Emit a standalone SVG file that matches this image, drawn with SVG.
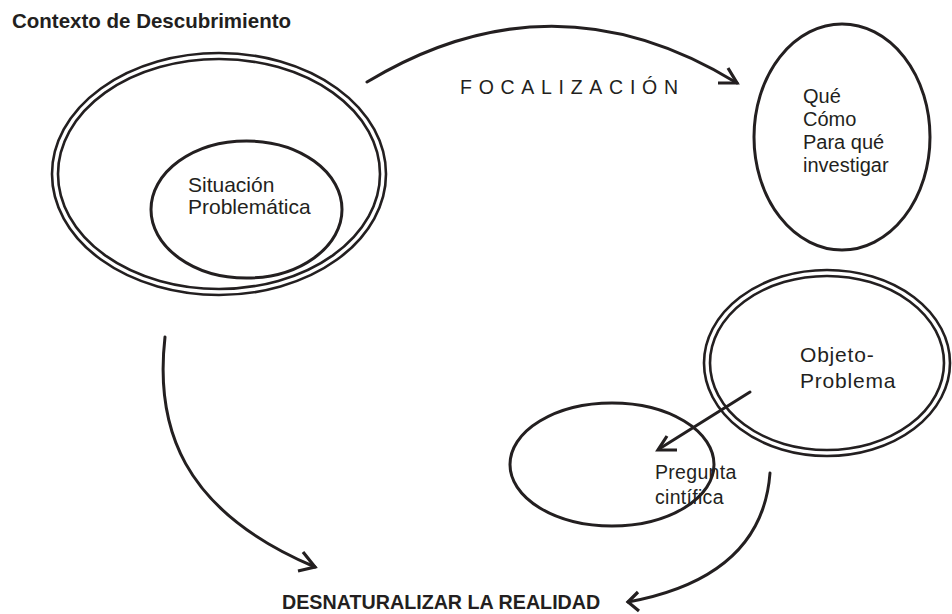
<svg xmlns="http://www.w3.org/2000/svg" width="952" height="614" viewBox="0 0 952 614">
<style>
.bg{fill:#ffffff}
.ell{fill:none;stroke:#231f20;stroke-width:3}
.ring{fill:none;stroke:#231f20;stroke-width:2.6}
.con{fill:none;stroke:#231f20;stroke-width:3;stroke-linecap:round;stroke-linejoin:round}
.head{fill:none;stroke:#231f20;stroke-width:3.2;stroke-linecap:butt;stroke-linejoin:miter}
.t{font-family:"Liberation Sans",Arial,sans-serif;fill:#231f20}
.b{font-weight:bold}
</style>
<rect class="bg" x="0" y="0" width="952" height="614"/>
<text id="title" class="t b" x="12" y="28" font-size="20.5">Contexto de Descubrimiento</text>
<g id="contexto">
<ellipse class="ring" cx="219" cy="174" rx="167" ry="121"/>
<ellipse class="ring" cx="219" cy="174" rx="161" ry="115"/>
</g>
<g id="situacion">
<ellipse class="ell" cx="246.5" cy="209.5" rx="95.5" ry="68.5"/>
<text class="t" font-size="21" x="188" y="192">Situación</text>
<text class="t" font-size="21" x="188" y="214">Problemática</text>
</g>
<g id="que">
<ellipse class="ell" cx="842" cy="137" rx="88" ry="113"/>
<text class="t" font-size="20" x="803" y="102.5">Qué</text>
<text class="t" font-size="20" x="803" y="125.5">Cómo</text>
<text class="t" font-size="20" x="803" y="148.5">Para qué</text>
<text class="t" font-size="20" x="803" y="171.5">investigar</text>
</g>
<g id="objeto">
<ellipse class="ring" cx="827" cy="363" rx="123" ry="93"/>
<ellipse class="ring" cx="827" cy="363" rx="117" ry="87"/>
<text class="t" font-size="21" letter-spacing="0.8" x="800" y="362">Objeto-</text>
<text class="t" font-size="21" letter-spacing="0.8" x="800" y="388">Problema</text>
</g>
<g id="pregunta">
<text class="t" font-size="19.5" letter-spacing="0.3" x="655" y="479">Pregunta</text>
<text class="t" font-size="19.5" letter-spacing="0.3" x="655" y="504">cintífica</text>
<ellipse class="ell" cx="612" cy="464.5" rx="102" ry="61.5"/>
</g>
<text id="focalizacion" class="t" font-size="19.5" x="460" y="94" textLength="218" lengthAdjust="spacing">FOCALIZACIÓN</text>
<text id="desnaturalizar" class="t b" font-size="19.7" x="282" y="609">DESNATURALIZAR LA REALIDAD</text>
<g id="connectors">
<path class="con" d="M367,82 Q553,-30 737,83"/>
<polyline class="head" points="718,83 737,83 728,68"/>
<path class="con" d="M750,392 L659,449"/>
<polyline class="head" points="677,450 658,450 667,436"/>
<path class="con" d="M165,337 C155,425 180,510 315,567"/>
<polyline class="head" points="298,571 315,567 303,552"/>
<path class="con" d="M770,473 C765,540 720,585 628,602"/>
<polyline class="head" points="638,592 628,602 639,611"/>
</g>
</svg>
